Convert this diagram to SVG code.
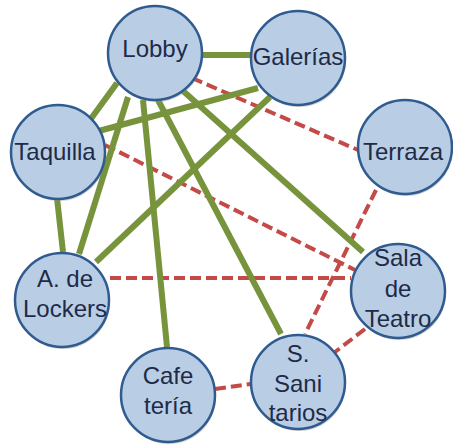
<svg xmlns="http://www.w3.org/2000/svg" width="453" height="447" viewBox="0 0 453 447">
<style>
.g{stroke:#77933C;stroke-width:6;fill:none}
.r{stroke:#C44A47;stroke-width:4;stroke-dasharray:11 5;fill:none}
.n{fill:#B9CDE5;stroke:#2F5B8F;stroke-width:2.5}
.sh{fill:#9a9a9a;opacity:0.45}
.t{font-family:"Liberation Sans",Arial,sans-serif;font-size:24px;fill:#1E2B47;text-anchor:middle}
</style>
<rect width="453" height="447" fill="#ffffff"/>
<g id="connectors">
<line class="r" x1="192" y1="78" x2="358" y2="150"/>
<line class="r" x1="105" y1="145" x2="355" y2="270"/>
<line class="r" x1="110" y1="278" x2="351" y2="278"/>
<line class="r" x1="376" y1="190" x2="305" y2="334"/>
<line class="r" x1="365" y1="329" x2="335" y2="352"/>
<line class="r" x1="215" y1="389" x2="251" y2="384"/>
<line class="g" x1="202" y1="55" x2="251" y2="55"/>
<line class="g" x1="117" y1="83" x2="90" y2="120"/>
<line class="g" x1="128" y1="97" x2="79" y2="254"/>
<line class="g" x1="143" y1="100" x2="167" y2="347"/>
<line class="g" x1="158" y1="100" x2="281" y2="334"/>
<line class="g" x1="182" y1="90" x2="363" y2="252"/>
<line class="g" x1="258" y1="88" x2="95" y2="132"/>
<line class="g" x1="270" y1="97" x2="96" y2="262"/>
<line class="g" x1="57" y1="198" x2="63" y2="252"/>
</g>
<g id="lobby"><circle class="sh" cx="156" cy="55" r="47"/><circle class="n" cx="155" cy="53" r="47"/><text class="t" x="155" y="57">Lobby</text></g>
<g id="galerias"><circle class="sh" cx="299" cy="60" r="47"/><circle class="n" cx="298" cy="58" r="47"/><text class="t" x="298" y="65">Galerías</text></g>
<g id="terraza"><circle class="sh" cx="406" cy="149" r="47"/><circle class="n" cx="405" cy="147" r="47"/><text class="t" x="403" y="160">Terraza</text></g>
<g id="taquilla"><circle class="sh" cx="59" cy="154" r="47"/><circle class="n" cx="58" cy="152" r="47"/><text class="t" x="55" y="160">Taquilla</text></g>
<g id="lockers"><circle class="sh" cx="63" cy="302" r="47"/><circle class="n" cx="62" cy="300" r="47"/><text class="t" x="65" y="287">A. de</text><text class="t" x="65" y="317">Lockers</text></g>
<g id="cafeteria"><circle class="sh" cx="169" cy="397" r="47"/><circle class="n" cx="168" cy="395" r="47"/><text class="t" x="168" y="384">Cafe</text><text class="t" x="168" y="414">tería</text></g>
<g id="sanitarios"><circle class="sh" cx="299" cy="384" r="47"/><circle class="n" cx="298" cy="382" r="47"/><text class="t" x="298" y="362">S.</text><text class="t" x="298" y="392">Sani</text><text class="t" x="298" y="421">tarios</text></g>
<g id="teatro"><circle class="sh" cx="399" cy="293" r="47"/><circle class="n" cx="398" cy="291" r="47"/><text class="t" x="398" y="266">Sala</text><text class="t" x="398" y="297">de</text><text class="t" x="398" y="327">Teatro</text></g>
</svg>
